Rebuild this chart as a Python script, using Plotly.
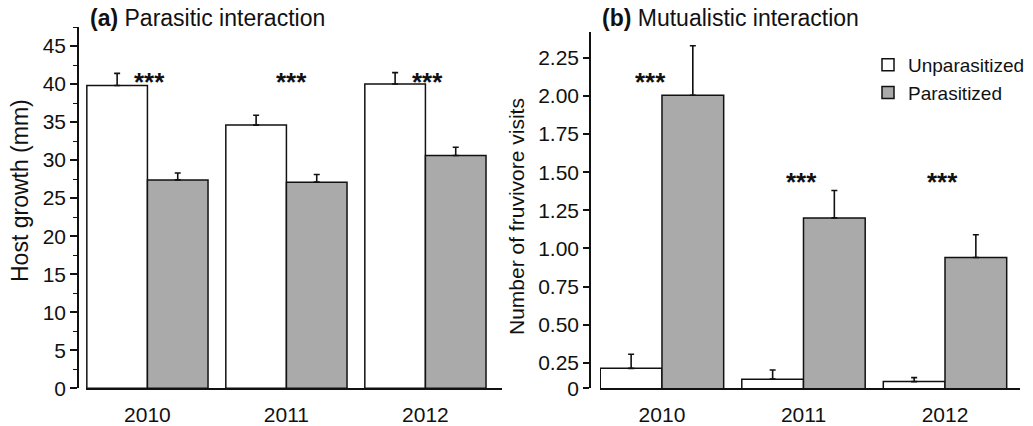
import plotly.graph_objects as go

years = ["2010", "2011", "2012"]

# Panel (a) host growth (mm)
growth_unpar = [39.8, 34.6, 40.0]
growth_unpar_err = [1.6, 1.3, 1.5]
growth_par = [27.4, 27.1, 30.6]
growth_par_err = [0.9, 1.0, 1.1]

# Panel (b) number of fruvivore visits
visits_unpar = [0.213, 0.142, 0.126]
visits_unpar_err = [0.092, 0.060, 0.026]
visits_par = [2.005, 1.20, 0.94]
visits_par_err = [0.325, 0.18, 0.15]

a_ticks = [0, 5, 10, 15, 20, 25, 30, 35, 40, 45]
b_tickvals = [0.082, 0.25, 0.5, 0.75, 1.0, 1.25, 1.5, 1.75, 2.0, 2.25]
b_ticktext = ["0", "0.25", "0.50", "0.75", "1.00", "1.25", "1.50", "1.75", "2.00", "2.25"]

W, H = 1033, 426
FONT = "Liberation Sans, Arial, sans-serif"
INK = "#111111"
GRAY = "#aaaaaa"

def px(x):
    return x / W

def py(y):
    return 1 - y / H

fig = go.Figure()

def add_bars(xax, yax, vals, errs, color, name, show):
    fig.add_trace(go.Bar(
        x=years, y=vals, name=name, xaxis=xax, yaxis=yax,
        marker=dict(color=color, line=dict(color=INK, width=1.5)),
        error_y=dict(type="data", array=errs, arrayminus=[0] * len(errs),
                     symmetric=False, color=INK, thickness=1.6, width=3),
        showlegend=show, legendgroup=name,
    ))

add_bars("x", "y", growth_unpar, growth_unpar_err, "white", "Unparasitized", True)
add_bars("x", "y", growth_par, growth_par_err, GRAY, "Parasitized", True)
add_bars("x2", "y2", visits_unpar, visits_unpar_err, "white", "Unparasitized", False)
add_bars("x2", "y2", visits_par, visits_par_err, GRAY, "Parasitized", False)

tickfont = dict(family=FONT, size=21, color=INK)

fig.update_layout(
    width=W, height=H,
    margin=dict(l=0, r=0, t=0, b=0, autoexpand=False),
    paper_bgcolor="white", plot_bgcolor="white",
    barmode="group", bargap=0.128, bargroupgap=0,
    font=dict(family=FONT, color=INK),
    xaxis=dict(domain=[px(86), px(502)], range=[-0.442, 2.551], type="category",
               showline=True, linecolor=INK, linewidth=1.5, showgrid=False,
               ticks="outside", ticklen=7, tickcolor="rgba(0,0,0,0)",
               tickfont=tickfont, anchor="y", zeroline=False, automargin=False),
    yaxis=dict(domain=[py(388.3), py(27)], range=[0, 47.5], anchor="free",
               position=px(78), showline=True, linecolor=INK, linewidth=1.5,
               showgrid=False, zeroline=False, tickvals=a_ticks, automargin=False,
               ticks="outside", ticklen=7, tickwidth=1.5, tickcolor=INK,
               minor=dict(dtick=2.5, tick0=0, ticks="outside", ticklen=4,
                          tickwidth=1.2, tickcolor=INK, showgrid=False),
               tickfont=tickfont),
    xaxis2=dict(domain=[px(600), px(1020)], range=[-0.438, 2.53], type="category",
                showline=True, linecolor=INK, linewidth=1.5, showgrid=False,
                ticks="outside", ticklen=7, tickcolor="rgba(0,0,0,0)",
                tickfont=tickfont, anchor="y2", zeroline=False, automargin=False),
    yaxis2=dict(domain=[py(388.3), py(32)], range=[0.082, 2.42], anchor="free",
                position=px(590), showline=True, linecolor=INK, linewidth=1.5,
                showgrid=False, zeroline=False, tickvals=b_tickvals, ticktext=b_ticktext,
                ticks="outside", ticklen=6, tickwidth=1.5, tickcolor=INK,
                tickfont=tickfont, automargin=False),
    legend=dict(x=px(868), y=py(46), xanchor="left", yanchor="top",
                font=dict(family=FONT, size=19, color=INK),
                bgcolor="rgba(0,0,0,0)", tracegroupgap=13, traceorder="normal"),
)

ann = []
ann.append(dict(text="<b>(a)</b> Parasitic interaction", x=px(88), y=py(18),
                xref="paper", yref="paper", xanchor="left", yanchor="middle",
                showarrow=False, font=dict(family=FONT, size=23, color=INK)))
ann.append(dict(text="<b>(b)</b> Mutualistic interaction", x=px(600), y=py(18),
                xref="paper", yref="paper", xanchor="left", yanchor="middle",
                showarrow=False, font=dict(family=FONT, size=23, color=INK)))
ann.append(dict(text="Host growth (mm)", x=px(20), y=py(191), textangle=-90,
                xref="paper", yref="paper", xanchor="center", yanchor="middle",
                showarrow=False, font=dict(family=FONT, size=23, color=INK)))
ann.append(dict(text="Number of fruvivore visits", x=px(516), y=py(217), textangle=-90,
                xref="paper", yref="paper", xanchor="center", yanchor="middle",
                showarrow=False, font=dict(family=FONT, size=21, color=INK)))

star_font = dict(family=FONT, size=26, color=INK)
for i, dx in zip(range(len(years)), [2, 5, 2]):
    ann.append(dict(text="<b>***</b>", x=i, y=40.9, xref="x", yref="y", xshift=dx,
                    yshift=-5, xanchor="center", yanchor="middle", showarrow=False,
                    font=star_font))
for i, yv, dx in zip(range(len(years)), [2.125, 1.469, 1.469], [-11, -2, -3]):
    ann.append(dict(text="<b>***</b>", x=i, y=yv, xref="x2", yref="y2", xshift=dx,
                    yshift=-5, xanchor="center", yanchor="middle", showarrow=False,
                    font=star_font))

fig.update_layout(annotations=ann)
fig.write_html("out.html")
